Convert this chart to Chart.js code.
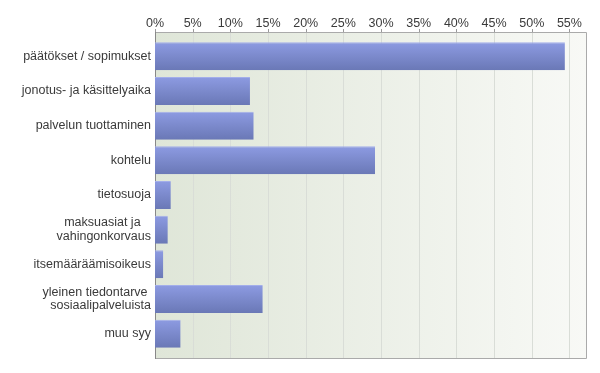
<!DOCTYPE html>
<html>
<head>
<meta charset="utf-8">
<script src="https://cdn.jsdelivr.net/npm/chart.js@4/dist/chart.umd.min.js"></script>
<style>
  html, body { margin: 0; padding: 0; background: #fff; }
  #wrap { width: 600px; height: 373px; }
</style>
</head>
<body>
<div id="wrap"><canvas id="syyChart"></canvas></div>
<script>
// kategoriat (rivit)
const categories = [
    'päätökset / sopimukset',
    'jonotus- ja käsittelyaika',
    'palvelun tuottaminen',
    'kohtelu',
    'tietosuoja',
    ['maksuasiat ja   ', 'vahingonkorvaus'],
    'itsemääräämisoikeus',
    ['yleinen tiedontarve ', 'sosiaalipalveluista'],
    'muu syy'
];

// osuudet prosentteina
const shares = [54.4, 12.6, 13.1, 29.2, 2.1, 1.7, 1.1, 14.3, 3.4];

// x-akselin jakoviivat
const tickValues = [0, 5, 10, 15, 20, 25, 30, 35, 40, 45, 50, 55];
const axisMax = 57.2;

// tausta, ruudukko ja reunat (piirretään itse jotta ne ulottuvat koko alueelle)
const plotFrame = {
    id: 'plotFrame',
    beforeDatasetsDraw(chart) {
        const ctx = chart.ctx;
        const area = chart.chartArea;
        const x = chart.scales.x;
        const top = area.top - 7;
        const bottom = area.bottom + 7;

        const bg = ctx.createLinearGradient(area.left, 0, area.right, 0);
        bg.addColorStop(0, '#dfe6d8');
        bg.addColorStop(1, '#f8f9f6');
        ctx.save();
        ctx.fillStyle = bg;
        ctx.fillRect(area.left, top, area.right - area.left, bottom - top);

        // pystyviivat
        ctx.strokeStyle = '#d9ddd7';
        ctx.lineWidth = 1;
        x.ticks.forEach(t => {
            if (t.value === 0) return;
            const px = Math.round(x.getPixelForValue(t.value)) + 0.5;
            ctx.beginPath();
            ctx.moveTo(px, top);
            ctx.lineTo(px, bottom);
            ctx.stroke();
        });

        // pienet merkit yläreunassa
        ctx.strokeStyle = '#999';
        x.ticks.forEach(t => {
            const px = Math.round(x.getPixelForValue(t.value)) + 0.5;
            ctx.beginPath();
            ctx.moveTo(px, top - 3);
            ctx.lineTo(px, top);
            ctx.stroke();
        });

        // reunat
        ctx.strokeStyle = '#aaa';
        ctx.beginPath();
        ctx.moveTo(area.left, top + 0.5);
        ctx.lineTo(area.right + 0.5, top + 0.5);
        ctx.lineTo(area.right + 0.5, bottom + 0.5);
        ctx.lineTo(area.left, bottom + 0.5);
        ctx.stroke();

        ctx.strokeStyle = '#888';
        ctx.beginPath();
        ctx.moveTo(area.left + 0.5, top);
        ctx.lineTo(area.left + 0.5, bottom + 1);
        ctx.stroke();
        ctx.restore();
    }
};

// palkin pystysuuntainen liukuväri
function barGradient(context) {
    const chart = context.chart;
    const y = chart.scales.y;
    if (!y || context.dataIndex === undefined) return '#7b89cc';
    const c = y.getPixelForValue(context.dataIndex);
    if (!Number.isFinite(c)) return '#7b89cc';
    const g = chart.ctx.createLinearGradient(0, c - 14, 0, c + 14);
    g.addColorStop(0, '#8d9be2');
    g.addColorStop(1, '#6a78b6');
    return g;
}

const labelFont = { family: 'Arial, "Liberation Sans", sans-serif', size: 12.5, lineHeight: 1.08 };

window.addEventListener('DOMContentLoaded', function() {
    const ctx = document.getElementById('syyChart').getContext('2d');
    new Chart(ctx, {
        type: 'bar',
        data: {
            labels: categories,
            datasets: [{
                data: shares,
                backgroundColor: barGradient,
                borderColor: '#a3aeea',
                borderWidth: { top: 1, right: 0, bottom: 0, left: 0 },
                borderSkipped: false,
                categoryPercentage: 1,
                barPercentage: 0.81
            }]
        },
        plugins: [plotFrame],
        options: {
            indexAxis: 'y',
            responsive: true,
            maintainAspectRatio: false,
            animation: false,
            layout: { padding: { left: 0, right: 14, top: 0, bottom: 22 } },
            plugins: {
                legend: { display: false },
                tooltip: { enabled: false }
            },
            scales: {
                x: {
                    position: 'top',
                    min: 0,
                    max: axisMax,
                    afterBuildTicks(scale) {
                        scale.ticks = tickValues.map(v => ({ value: v }));
                    },
                    afterFit(scale) { scale.height = 39; },
                    grid: { display: false, drawTicks: false },
                    border: { display: false },
                    ticks: {
                        padding: 8,
                        color: '#3a3a3a',
                        font: { family: 'Arial, "Liberation Sans", sans-serif', size: 12.5 },
                        maxRotation: 0,
                        autoSkip: false,
                        callback: v => v + '%'
                    }
                },
                y: {
                    afterFit(scale) { scale.width = 155; },
                    grid: { display: false, drawTicks: false },
                    border: { display: false },
                    ticks: {
                        padding: 4,
                        color: '#3a3a3a',
                        font: labelFont
                    }
                }
            }
        }
    });
});
</script>
</body>
</html>
